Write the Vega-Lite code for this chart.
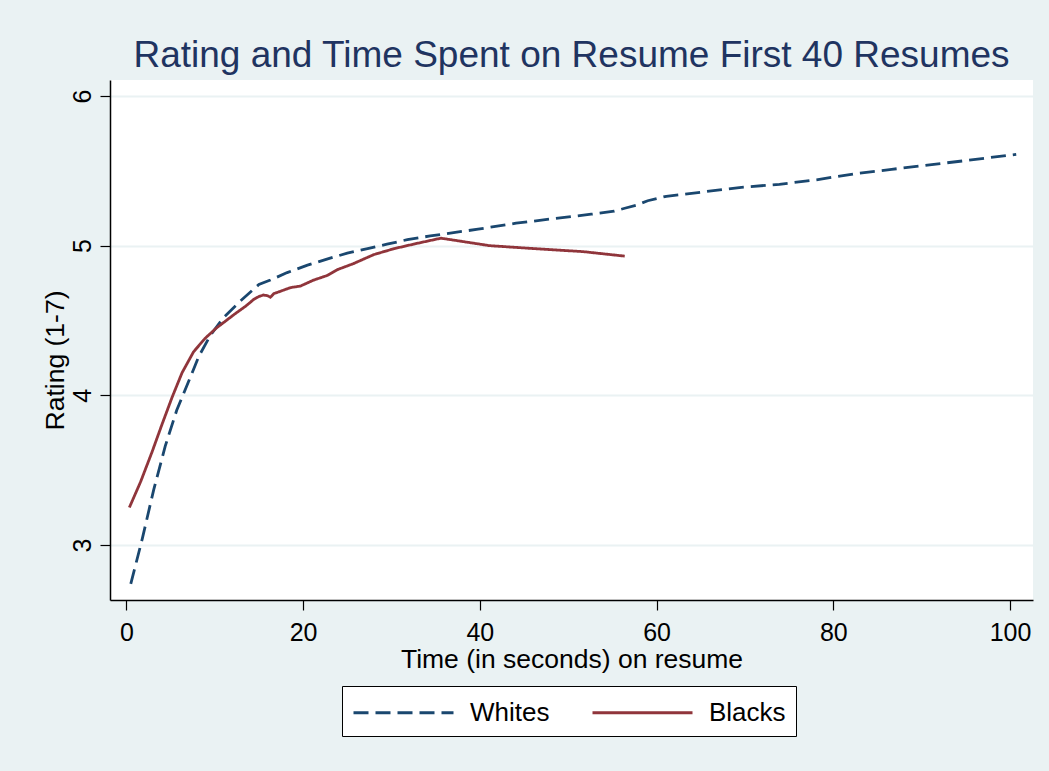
{
  "$schema": "https://vega.github.io/schema/vega-lite/v6.json",
  "autosize": {"type": "none"},
  "padding": {"left": 110, "top": 80, "right": 16, "bottom": 171},
  "width": 923,
  "height": 520,
  "background": "#eaf2f3",
  "title": {
    "text": "Rating and Time Spent on Resume First 40 Resumes",
    "font": "Liberation Sans",
    "fontSize": 37,
    "fontWeight": "normal",
    "color": "#1f3461",
    "anchor": "middle",
    "baseline": "alphabetic",
    "offset": -24
  },
  "data": {
    "values": [
      {"group": "Whites", "t": 0.5, "rating": 2.74},
      {"group": "Whites", "t": 1.8, "rating": 3.04},
      {"group": "Whites", "t": 3.1, "rating": 3.37},
      {"group": "Whites", "t": 4.4, "rating": 3.66},
      {"group": "Whites", "t": 5.7, "rating": 3.90},
      {"group": "Whites", "t": 7.1, "rating": 4.10},
      {"group": "Whites", "t": 8.2, "rating": 4.26},
      {"group": "Whites", "t": 9.5, "rating": 4.40},
      {"group": "Whites", "t": 11.0, "rating": 4.52},
      {"group": "Whites", "t": 12.9, "rating": 4.63},
      {"group": "Whites", "t": 15.0, "rating": 4.74},
      {"group": "Whites", "t": 16.3, "rating": 4.77},
      {"group": "Whites", "t": 18.2, "rating": 4.82},
      {"group": "Whites", "t": 20.5, "rating": 4.87},
      {"group": "Whites", "t": 22.7, "rating": 4.91},
      {"group": "Whites", "t": 25.0, "rating": 4.95},
      {"group": "Whites", "t": 27.3, "rating": 4.98},
      {"group": "Whites", "t": 29.5, "rating": 5.01},
      {"group": "Whites", "t": 31.8, "rating": 5.04},
      {"group": "Whites", "t": 34.4, "rating": 5.065},
      {"group": "Whites", "t": 37.4, "rating": 5.09},
      {"group": "Whites", "t": 39.8, "rating": 5.11},
      {"group": "Whites", "t": 44.1, "rating": 5.15},
      {"group": "Whites", "t": 48.3, "rating": 5.18},
      {"group": "Whites", "t": 52.6, "rating": 5.21},
      {"group": "Whites", "t": 55.2, "rating": 5.23},
      {"group": "Whites", "t": 56.4, "rating": 5.25},
      {"group": "Whites", "t": 57.7, "rating": 5.27},
      {"group": "Whites", "t": 59.0, "rating": 5.30},
      {"group": "Whites", "t": 61.1, "rating": 5.33},
      {"group": "Whites", "t": 65.4, "rating": 5.36},
      {"group": "Whites", "t": 69.6, "rating": 5.39},
      {"group": "Whites", "t": 73.9, "rating": 5.41},
      {"group": "Whites", "t": 78.1, "rating": 5.44},
      {"group": "Whites", "t": 82.4, "rating": 5.48},
      {"group": "Whites", "t": 86.6, "rating": 5.51},
      {"group": "Whites", "t": 90.9, "rating": 5.54},
      {"group": "Whites", "t": 95.2, "rating": 5.57},
      {"group": "Whites", "t": 100.7, "rating": 5.61},
      {"group": "Blacks", "t": 0.34, "rating": 3.25},
      {"group": "Blacks", "t": 1.6, "rating": 3.42},
      {"group": "Blacks", "t": 2.9, "rating": 3.62},
      {"group": "Blacks", "t": 4.0, "rating": 3.80},
      {"group": "Blacks", "t": 5.2, "rating": 3.99},
      {"group": "Blacks", "t": 6.3, "rating": 4.15},
      {"group": "Blacks", "t": 7.6, "rating": 4.29},
      {"group": "Blacks", "t": 8.9, "rating": 4.38},
      {"group": "Blacks", "t": 10.2, "rating": 4.45},
      {"group": "Blacks", "t": 12.2, "rating": 4.54},
      {"group": "Blacks", "t": 13.6, "rating": 4.60},
      {"group": "Blacks", "t": 14.4, "rating": 4.64},
      {"group": "Blacks", "t": 15.0, "rating": 4.66},
      {"group": "Blacks", "t": 15.5, "rating": 4.67},
      {"group": "Blacks", "t": 16.0, "rating": 4.665},
      {"group": "Blacks", "t": 16.3, "rating": 4.655},
      {"group": "Blacks", "t": 16.7, "rating": 4.68},
      {"group": "Blacks", "t": 17.2, "rating": 4.69},
      {"group": "Blacks", "t": 18.6, "rating": 4.72},
      {"group": "Blacks", "t": 19.7, "rating": 4.73},
      {"group": "Blacks", "t": 21.2, "rating": 4.77},
      {"group": "Blacks", "t": 22.7, "rating": 4.80},
      {"group": "Blacks", "t": 23.9, "rating": 4.84},
      {"group": "Blacks", "t": 25.7, "rating": 4.88},
      {"group": "Blacks", "t": 28.0, "rating": 4.94},
      {"group": "Blacks", "t": 30.3, "rating": 4.98},
      {"group": "Blacks", "t": 32.5, "rating": 5.01},
      {"group": "Blacks", "t": 35.6, "rating": 5.05},
      {"group": "Blacks", "t": 37.8, "rating": 5.03},
      {"group": "Blacks", "t": 41.1, "rating": 5.00},
      {"group": "Blacks", "t": 46.2, "rating": 4.98},
      {"group": "Blacks", "t": 51.7, "rating": 4.96},
      {"group": "Blacks", "t": 56.4, "rating": 4.93}
    ]
  },
  "mark": {"type": "line", "strokeWidth": 2.8, "strokeCap": "butt"},
  "encoding": {
    "x": {
      "field": "t",
      "type": "quantitative",
      "scale": {"domain": [-1.85, 102.6], "nice": false, "zero": false},
      "axis": {
        "title": "Time (in seconds) on resume",
        "values": [0, 20, 40, 60, 80, 100],
        "grid": false,
        "labelPadding": 10,
        "titleX": 461.5,
        "titleY": 67,
        "titleBaseline": "alphabetic",
        "titleAlign": "center"
      }
    },
    "y": {
      "field": "rating",
      "type": "quantitative",
      "scale": {"domain": [2.632, 6.107], "nice": false, "zero": false},
      "axis": {
        "title": "Rating (1-7)",
        "values": [3, 4, 5, 6],
        "grid": true,
        "gridColor": "#eaf2f3",
        "gridWidth": 2,
        "labelAngle": 270,
        "labelPadding": 5,
        "titleAngle": 270,
        "titleX": -47,
        "titleY": 280,
        "titleBaseline": "alphabetic",
        "titleAlign": "center"
      }
    },
    "color": {
      "field": "group",
      "type": "nominal",
      "scale": {"domain": ["Whites", "Blacks"], "range": ["#1a476f", "#90353b"]},
      "legend": {"title": null}
    },
    "strokeDash": {
      "field": "group",
      "type": "nominal",
      "scale": {"domain": ["Whites", "Blacks"], "range": [[15, 7], [1, 0]]},
      "legend": {"title": null}
    }
  },
  "config": {
    "font": "Liberation Sans",
    "view": {"fill": "white", "stroke": null},
    "axis": {
      "domainColor": "black",
      "domainWidth": 1.5,
      "tickColor": "black",
      "tickWidth": 1.2,
      "tickSize": 10,
      "labelFont": "Liberation Sans",
      "labelFontSize": 25,
      "labelColor": "black",
      "titleFont": "Liberation Sans",
      "titleFontSize": 26.5,
      "titleFontWeight": "normal",
      "titleColor": "black"
    },
    "legend": {
      "orient": "none",
      "legendX": 232,
      "legendY": 606,
      "direction": "horizontal",
      "strokeColor": "black",
      "fillColor": "white",
      "padding": 10,
      "symbolType": "M-1,0H5.6667",
      "symbolSize": 900,
      "symbolStrokeWidth": 2.8,
      "labelFont": "Liberation Sans",
      "labelFontSize": 26,
      "labelColor": "black",
      "labelOffset": 85,
      "columnPadding": 36
    }
  }
}
